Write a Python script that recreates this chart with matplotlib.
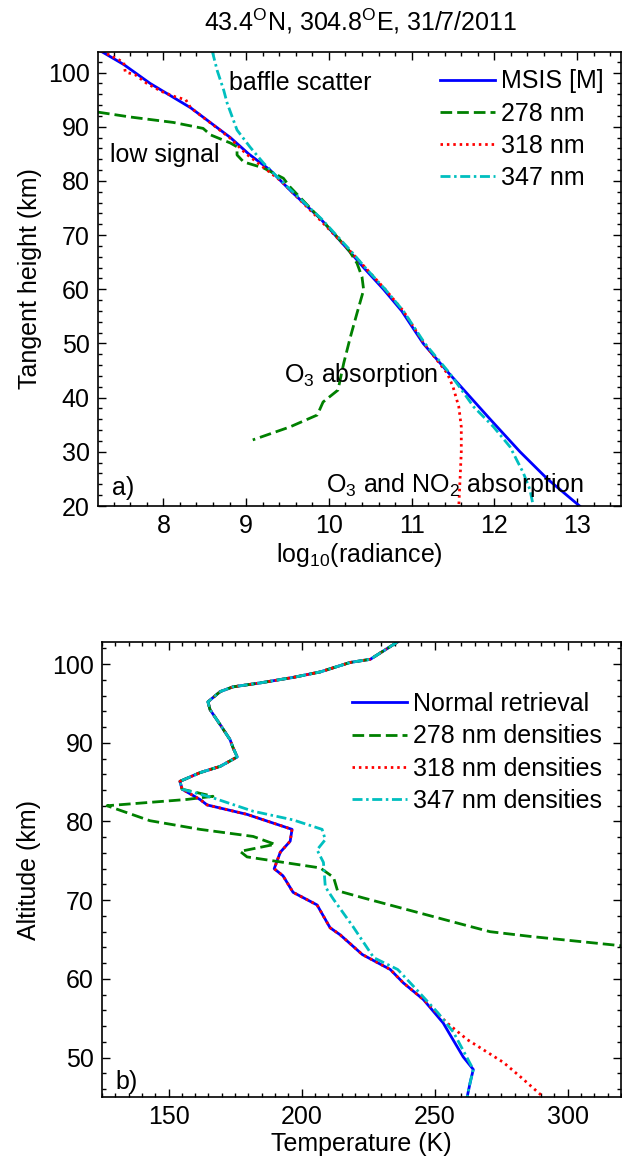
import matplotlib
matplotlib.use("Agg")
import matplotlib.pyplot as plt
from matplotlib.ticker import MultipleLocator

plt.rcParams["font.family"] = ["Liberation Sans", "DejaVu Sans"]
plt.rcParams["mathtext.fontset"] = "custom"
plt.rcParams["mathtext.rm"] = "Liberation Sans"
plt.rcParams["mathtext.it"] = "Liberation Sans:italic"

# ---- panel a: log10(radiance) vs tangent height -------------------------
msis_h = [104, 101.5, 98, 93.5, 88, 85, 82, 78, 73, 67, 64, 60, 56, 50, 44.5,
          36, 30, 25, 20]
msis_x = [7.24, 7.52, 7.84, 8.33, 8.81, 9.03, 9.29, 9.55, 9.90, 10.25, 10.42,
          10.66, 10.88, 11.14, 11.45, 11.95, 12.31, 12.64, 13.03]

nm278_h = [92.7, 91.8, 90.8, 89.7, 88.5, 87.0, 86.3, 84.8, 83.5, 82.4, 80.5,
           78.9, 73, 70, 67, 64.8, 62.3, 59.9, 55.6, 51.2, 46.4, 41.4, 39.2,
           36.8, 34.6, 32.2]
nm278_x = [7.21, 7.60, 8.12, 8.48, 8.57, 8.81, 8.89, 8.89, 8.97, 9.21, 9.45,
           9.53, 9.90, 10.08, 10.25, 10.34, 10.40, 10.42, 10.34, 10.26, 10.18,
           10.11, 9.93, 9.86, 9.53, 9.08]

nm318_h = [104, 101.9, 100.1, 99.6, 98, 96.5, 95.5, 95.0, 93.5, 88, 85, 80,
           73, 67, 64, 60, 56, 50, 44.5, 42, 38.3, 34.6, 30, 26.6, 20]
nm318_x = [7.25, 7.52, 7.54, 7.66, 7.80, 7.98, 8.15, 8.27, 8.33, 8.80, 9.00,
           9.42, 9.88, 10.26, 10.44, 10.68, 10.90, 11.15, 11.43, 11.50, 11.57,
           11.60, 11.60, 11.59, 11.57]

nm347_h = [104, 100.4, 96.7, 94.4, 89.4, 86.2, 83.3, 80.7, 78.9, 73, 67, 64,
           60, 56, 50, 44.5, 38.3, 34.6, 30.9, 26.1, 23, 20]
nm347_x = [8.59, 8.65, 8.73, 8.77, 8.89, 9.05, 9.21, 9.38, 9.50, 9.91, 10.27,
           10.44, 10.68, 10.90, 11.16, 11.46, 11.75, 11.99, 12.19, 12.35, 12.43,
           12.47]

# ---- panel b: temperature vs altitude ------------------------------------
# upper part is common to all four retrievals
shared_t = [236, 225.8, 218.2, 207, 196.8, 184.4, 174.2, 169.4, 164.8, 165.6,
            169.4, 173.1, 174.2, 175.8, 174.2, 169.4, 161.8, 154.3, 155.1]
shared_z = [102.8, 100.6, 100.2, 99.0, 98.3, 97.6, 97.1, 96.5, 95.2, 94.2,
            92.3, 90.4, 89.4, 88.2, 87.9, 87.0, 86.2, 85.1, 84.1]

normal_t = [161.8, 164.5, 179.5, 196.4, 195.7, 192.0, 189.7, 193.0, 196.8,
            205.8, 210.7, 214.5, 222.8, 233.3, 238.2, 245.7, 253.2, 255.8,
            260.7, 264.5, 263.3, 262.2]
normal_z = [82.8, 82.1, 80.9, 79.0, 77.5, 76.1, 74.0, 73.1, 71.0, 69.4, 66.5,
            65.6, 63.1, 61.2, 59.5, 57.4, 54.4, 52.9, 50.1, 48.5, 46.8, 45]

d278_t = [166.7, 156.9, 126.9, 143.0, 161.8, 181.8, 190.0, 176.9, 179.5,
          207.0, 212.0, 213.5, 223.1, 241.9, 260.7, 270.8, 285.9, 320.5]
d278_z = [83.2, 82.8, 82.0, 80.1, 79.0, 78.1, 77.1, 76.2, 75.5, 74.1, 72.9,
          71.2, 70.3, 68.6, 66.9, 66.0, 65.4, 64.2]

d318_t = [161.8, 164.5, 179.5, 196.4, 195.7, 192.0, 189.7, 193.0, 196.8,
          205.8, 210.7, 214.5, 222.8, 233.3, 238.2, 245.7, 254.7, 262.2,
          275.8, 282.1, 290.8]
d318_z = [82.8, 82.1, 80.9, 79.0, 77.5, 76.1, 74.0, 73.1, 71.0, 69.4, 66.5,
          65.6, 63.1, 61.2, 59.5, 57.4, 54.4, 52.3, 49.4, 47.6, 45]

d347_t = [166.7, 181.8, 196.8, 207.7, 208.9, 205.8, 208.2, 208.9, 212.0,
          219.4, 227.1, 236.1, 242.2, 251.2, 257.1, 264.5, 263.3, 262.2]
d347_z = [83.0, 81.3, 80.2, 79.0, 77.7, 76.4, 74.8, 71.7, 70.1, 66.6, 62.7,
          61.2, 59.0, 55.7, 53.2, 48.5, 46.8, 45]

labels_a = ["MSIS [M]", "278 nm", "318 nm", "347 nm"]
labels_b = ["Normal retrieval", "278 nm densities", "318 nm densities",
            "347 nm densities"]

FS = 18
LW = 2.0
STYLES = [
    dict(color="#0000FF", ls="-"),
    dict(color="#008000", ls=(0, (4.2, 1.8))),
    dict(color="#FF0000", ls=(0, (0.9, 1.4))),
    dict(color="#00BFBF", ls=(0, (3.6, 1.3, 0.9, 1.3))),
]


def style(ax):
    ax.tick_params(which="both", direction="in", top=True, right=True,
                   labelsize=FS, pad=6)
    ax.tick_params(which="major", length=6, width=1)
    ax.tick_params(which="minor", length=3, width=1)
    for s in ax.spines.values():
        s.set_linewidth(1.2)


fig = plt.figure(figsize=(6.22, 11.63), dpi=100)

# ---- a) -------------------------------------------------------------------
ax1 = fig.add_axes([98 / 622, 1 - 506 / 1163, 523 / 622, 454 / 1163])
series_a = [(msis_x, msis_h), (nm278_x, nm278_h), (nm318_x, nm318_h),
            (nm347_x, nm347_h)]
for (x, h), st, lab in zip(series_a, STYLES, labels_a):
    ax1.plot(x, h, lw=LW, label=lab, **st)
ax1.set_xlim(7.21, 13.53)
ax1.set_ylim(20, 103.8)
ax1.xaxis.set_major_locator(MultipleLocator(1))
ax1.xaxis.set_minor_locator(MultipleLocator(0.2))
ax1.yaxis.set_major_locator(MultipleLocator(10))
ax1.yaxis.set_minor_locator(MultipleLocator(2))
style(ax1)
ax1.set_xlabel("log$_{10}$(radiance)", fontsize=FS, labelpad=2)
ax1.set_ylabel("Tangent height (km)", fontsize=FS, labelpad=4)
ax1.legend(loc="upper left", bbox_to_anchor=(0.654, 0.962), frameon=False,
           fontsize=FS, handlelength=2.2, handletextpad=0.25,
           labelspacing=0.33, borderpad=0, borderaxespad=0)
ax1.text(8.79, 98.0, "baffle scatter", fontsize=FS, va="center")
ax1.text(7.36, 84.8, "low signal", fontsize=FS, va="center")
ax1.text(9.46, 44.2, "O$_3$ absorption", fontsize=FS, va="center")
ax1.text(9.96, 23.9, "O$_3$ and NO$_2$ absorption", fontsize=FS, va="center")
ax1.text(7.38, 23.3, "a)", fontsize=FS, va="center")

fig.text(360 / 622, 1 - 31 / 1163,
         "43.4$^{\\mathrm{O}}$N, 304.8$^{\\mathrm{O}}$E, 31/7/2011",
         fontsize=FS, ha="center", va="baseline")

# ---- b) -------------------------------------------------------------------
ax2 = fig.add_axes([102 / 622, 1 - 1097 / 1163, 519 / 622, 455 / 1163])
series_b = [(normal_t, normal_z), (d278_t, d278_z), (d318_t, d318_z),
            (d347_t, d347_z)]
for (t, z), st, lab in zip(series_b, STYLES, labels_b):
    ax2.plot(shared_t + t, shared_z + z, lw=LW, label=lab, **st)
ax2.set_xlim(125, 320)
ax2.set_ylim(45, 102.8)
ax2.xaxis.set_major_locator(MultipleLocator(50))
ax2.xaxis.set_minor_locator(MultipleLocator(5))
ax2.yaxis.set_major_locator(MultipleLocator(10))
ax2.yaxis.set_minor_locator(MultipleLocator(2))
style(ax2)
ax2.set_xlabel("Temperature (K)", fontsize=FS, labelpad=2)
ax2.set_ylabel("Altitude (km)", fontsize=FS, labelpad=8)
ax2.legend(loc="upper left", bbox_to_anchor=(0.482, 0.890), frameon=False,
           fontsize=FS, handlelength=2.2, handletextpad=0.25,
           labelspacing=0.33, borderpad=0, borderaxespad=0)
ax2.text(129.9, 46.95, "b)", fontsize=FS, va="center")

fig.savefig("out.png", dpi=100)
